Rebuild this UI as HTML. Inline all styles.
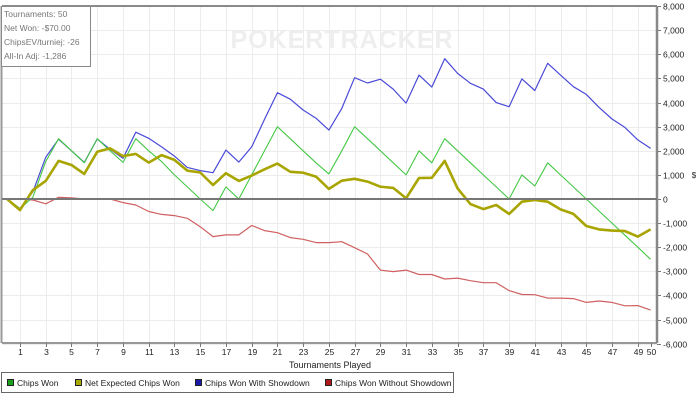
<!DOCTYPE html>
<html><head><meta charset="utf-8"><style>
html,body{margin:0;padding:0;background:#fff;width:700px;height:402px;overflow:hidden}
svg{display:block;font-family:"Liberation Sans",sans-serif}
</style></head><body>
<svg id="chart" width="700" height="402" viewBox="0 0 700 402" xmlns="http://www.w3.org/2000/svg">
<rect x="0" y="0" width="700" height="402" fill="#fff"/>
<g id="grid"></g>
<text x="342" y="48" text-anchor="middle" font-size="25" font-weight="bold" fill="#eeeeee" letter-spacing="1">POKERTRACKER</text>
<g id="series"></g>
<g id="axes"></g>
<g>
<rect x="1.5" y="6.5" width="89" height="60" fill="#fff" stroke="#888"/>
<text x="4" y="17" font-size="8.5" fill="#777">Tournaments: 50</text>
<text x="4" y="31" font-size="8.5" fill="#777">Net Won: -$70.00</text>
<text x="4" y="45" font-size="8.5" fill="#777">ChipsEV/turniej: -26</text>
<text x="4" y="59" font-size="8.5" fill="#777">All-In Adj: -1,286</text>
</g>
<text x="330" y="368" text-anchor="middle" font-size="9" fill="#222">Tournaments Played</text>
<text x="694" y="178" text-anchor="middle" font-size="8" fill="#222">$</text>
<g>
<rect x="1.5" y="372.5" width="452" height="20" fill="#fff" stroke="#666"/>
<g><rect x="7.5" y="379.5" width="6" height="6" fill="#1aa01a" stroke="#222"/><text x="17" y="386" font-size="8.5" fill="#222">Chips Won</text></g>
<g><rect x="75.5" y="379.5" width="6" height="6" fill="#a8a800" stroke="#222"/><text x="85" y="386" font-size="8.5" fill="#222">Net Expected Chips Won</text></g>
<g><rect x="195.5" y="379.5" width="6" height="6" fill="#1a1aa8" stroke="#222"/><text x="205" y="386" font-size="8.5" fill="#222">Chips Won With Showdown</text></g>
<g><rect x="325.5" y="379.5" width="6" height="6" fill="#b01818" stroke="#222"/><text x="335" y="386" font-size="8.5" fill="#222">Chips Won Without Showdown</text></g>
</g>
</svg>
<script>
const tournaments=[0,1,2,3,4,5,6,7,8,9,10,11,12,13,14,15,16,17,18,19,20,21,22,23,24,25,26,27,28,29,30,31,32,33,34,35,36,37,38,39,40,41,42,43,44,45,46,47,48,49,50];
const chipsWon=[0,-400,80,1550,2500,2000,1500,2500,2000,1520,2500,2000,1550,1000,500,0,-480,500,0,1000,2000,3000,2500,2000,1500,1040,2000,3000,2500,2000,1500,1000,2000,1500,2500,2000,1500,1000,500,0,1000,540,1500,1000,500,0,-500,-1000,-1500,-2000,-2500];
const netExpected=[0,-460,370,750,1580,1410,1040,1960,2100,1780,1870,1510,1820,1620,1180,1100,580,1070,750,970,1230,1470,1130,1090,930,420,760,840,720,510,460,30,870,880,1580,440,-210,-420,-250,-620,-110,-40,-110,-430,-620,-1120,-1260,-1310,-1330,-1560,-1260];
const withShowdown=[0,-400,300,1730,2480,2000,1520,2490,2060,1690,2770,2520,2160,1780,1310,1180,1090,2030,1530,2160,3300,4410,4140,3690,3350,2860,3760,5030,4810,4970,4560,3980,5140,4640,5820,5210,4800,4560,4000,3830,4980,4500,5630,5140,4660,4340,3800,3320,2970,2450,2100];
const withoutShowdown=[0,0,-40,-200,70,50,0,0,0,-150,-250,-520,-640,-690,-800,-1150,-1560,-1490,-1490,-1100,-1310,-1400,-1600,-1670,-1810,-1810,-1770,-2020,-2280,-2950,-3010,-2950,-3130,-3130,-3320,-3280,-3390,-3470,-3470,-3800,-3960,-3970,-4110,-4110,-4130,-4290,-4230,-4290,-4430,-4420,-4610];
const yTicks=[-6000,-5000,-4000,-3000,-2000,-1000,0,1000,2000,3000,4000,5000,6000,7000,8000];
const yTickLabels=["-6,000","-5,000","-4,000","-3,000","-2,000","-1,000","0","1,000","2,000","3,000","4,000","5,000","6,000","7,000","8,000"];
const xTicks=[1,3,5,7,9,11,13,15,17,19,21,23,25,27,29,31,33,35,37,39,41,43,45,47,49,50];

const NS="http://www.w3.org/2000/svg";
const PL=2,PR=657,PT=6,PB=343;
function xs(t){return 20+(t-1)*12.87;}
function ys(v){return 199-v*0.024107;}
function mk(tag,attrs,parent){const e=document.createElementNS(NS,tag);for(const k in attrs)e.setAttribute(k,attrs[k]);parent.appendChild(e);return e;}
const grid=document.getElementById('grid'),axes=document.getElementById('axes'),series=document.getElementById('series');
yTicks.forEach((v,i)=>{
  const y=Math.round(ys(v))+0.5;
  const g=mk('line',{x1:PL,x2:PR,y1:y,y2:y,stroke:'#ececec','stroke-width':1},grid);
  
  
  const t=mk('line',{x1:PR,x2:PR+4,y1:y,y2:y,stroke:'#777'},axes);
  
  
  const l=mk('text',{x:PR+6,y:y+3,'font-size':8.5,fill:'#222'},axes);
  l.textContent=yTickLabels[i];
  
  
});
xTicks.forEach(tv=>{
  const x=Math.round(xs(tv))+0.5;
  if(tv%2===1){const g=mk('line',{x1:x,x2:x,y1:PT,y2:PB,stroke:'#ececec'},grid);
  
  }
  const t=mk('line',{x1:x,x2:x,y1:PB,y2:PB+4,stroke:'#777'},axes);
  
  
  const l=mk('text',{x:x,y:355,'font-size':8.5,fill:'#222','text-anchor':'middle'},axes);
  l.textContent=String(tv);
  
  
});
[['M2 6H657','#666',1.5,'top-border'],['M1.5 6V343','#999',2,'left-axis'],['M2 343H657','#777',1.5,'x-axis'],['M657 6V343','#888',2.5,'right-axis'],['M2 '+ys(0)+'H657','#777',2,'zero-line']].forEach(a=>{
  const p=mk('path',{d:a[0],stroke:a[1],'stroke-width':a[2],fill:'none'},axes);
  
  
});
function line(arr,color,w,name){
  const d=arr.map((v,i)=>(i?'L':'M')+xs(tournaments[i]).toFixed(1)+' '+ys(v).toFixed(1)).join('');
  const p=mk('path',{d:d,stroke:color,'stroke-width':w,fill:'none','stroke-linejoin':'round'},series);
  
  
}
line(withoutShowdown,'#d06060',1.2,'line-chips-won-without-showdown');
line(withShowdown,'#4a4ad8',1.2,'line-chips-won-with-showdown');
line(chipsWon,'#44c844',1.1,'line-chips-won');
line(netExpected,'#a8a400',2.6,'line-net-expected-chips-won');
</script>
</body></html>
